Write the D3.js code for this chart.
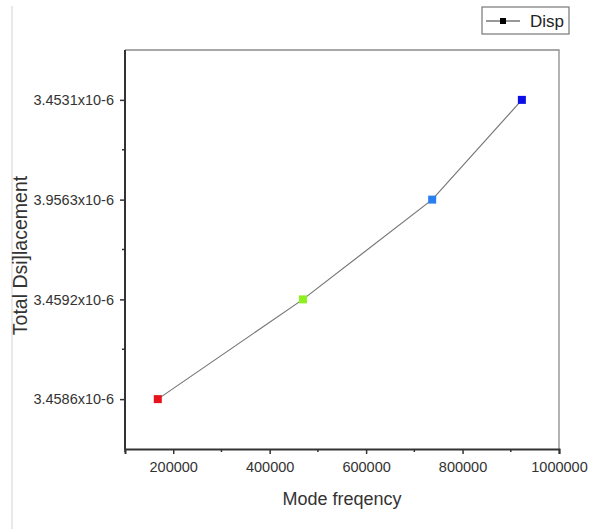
<!DOCTYPE html>
<html>
<head>
<meta charset="utf-8">
<script src="https://cdn.jsdelivr.net/npm/d3@7"></script>
<style>
  body { margin: 0; background: #fff; }
  svg { font-family: "Liberation Sans", Arial, sans-serif; }
  .tick-label { font-size: 14.5px; fill: #333; }
</style>
</head>
<body>
<svg id="chart" width="589" height="529"></svg>
<script>
// data
const dispLabels = ['3.4586x10-6', '3.4592x10-6', '3.9563x10-6', '3.4531x10-6'];
const modeFreq = [168000, 469000, 737000, 923000];
const pointColors = ['#e8121c', '#8ef01e', '#2a7ff0', '#0c0ee8'];
const xTicks = [200000, 400000, 600000, 800000, 1000000];
const xMinorTicks = [100000, 300000, 500000, 700000, 900000];

const svg = d3.select('#chart');
const margin = { top: 50, right: 30, bottom: 80, left: 125 };
const width = +svg.attr('width');
const height = +svg.attr('height');
const x0 = margin.left, x1 = width - margin.right;
const y0 = margin.top, y1 = height - margin.bottom;

// faint line along the left edge
svg.append('line')
  .attr('x1', 12).attr('x2', 12)
  .attr('y1', 6).attr('y2', height)
  .attr('stroke', '#e2e2e2').attr('stroke-width', 1.5);

const x = d3.scaleLinear().domain([100000, 1000000]).range([x0, x1]);
const y = d3.scalePoint().domain(dispLabels).range([y1, y0]).padding(0.5);

// frame top and right
svg.append('path')
  .attr('d', `M${x0},${y0}H${x1}V${y1}`)
  .attr('fill', 'none')
  .attr('stroke', '#8a8a8a')
  .attr('stroke-width', 1.3);

// bottom axis
const xAxis = svg.append('g')
  .attr('transform', `translate(0,${y1})`)
  .call(d3.axisBottom(x).tickValues(xTicks).tickFormat(d3.format('d')).tickSize(5).tickPadding(8));
xAxis.select('.domain').attr('stroke', '#333').attr('stroke-width', 2);
xAxis.selectAll('.tick line').attr('stroke', '#333').attr('stroke-width', 1.5);
xAxis.selectAll('.tick text').attr('class', 'tick-label').attr('font-family', null).attr('font-size', null);

svg.append('g')
  .selectAll('line')
  .data(xMinorTicks)
  .join('line')
  .attr('x1', d => x(d)).attr('x2', d => x(d))
  .attr('y1', y1).attr('y2', y1 + 3)
  .attr('stroke', '#333').attr('stroke-width', 1.5);

// left axis
const yAxis = svg.append('g')
  .attr('transform', `translate(${x0},0)`)
  .call(d3.axisLeft(y).tickSize(5).tickPadding(6));
yAxis.select('.domain').attr('d', `M0,${y1}V${y0}`).attr('stroke', '#333').attr('stroke-width', 2);
yAxis.selectAll('.tick line').attr('stroke', '#333').attr('stroke-width', 1.5);
yAxis.selectAll('.tick text').attr('class', 'tick-label').attr('font-family', null).attr('font-size', null);

const step = y.step();
const yMinor = dispLabels.slice(0, -1).map(d => y(d) - step / 2);
svg.append('g')
  .selectAll('line')
  .data(yMinor)
  .join('line')
  .attr('x1', x0 - 3).attr('x2', x0)
  .attr('y1', d => d).attr('y2', d => d)
  .attr('stroke', '#333').attr('stroke-width', 1.5);

// series line
const points = modeFreq.map((f, i) => ({ f, d: dispLabels[i], c: pointColors[i] }));
svg.append('path')
  .datum(points)
  .attr('fill', 'none')
  .attr('stroke', '#777')
  .attr('stroke-width', 1.2)
  .attr('d', d3.line().x(p => x(p.f)).y(p => y(p.d)));

svg.append('g')
  .selectAll('rect')
  .data(points)
  .join('rect')
  .attr('x', p => x(p.f) - 4)
  .attr('y', p => y(p.d) - 4)
  .attr('width', 8)
  .attr('height', 8)
  .attr('fill', p => p.c);

// axis titles
svg.append('text')
  .attr('x', (x0 + x1) / 2)
  .attr('y', 505)
  .attr('text-anchor', 'middle')
  .attr('font-size', 18)
  .attr('fill', '#333')
  .text('Mode freqency');

svg.append('text')
  .attr('transform', `translate(27,${(y0 + y1) / 2 + 6}) rotate(-90)`)
  .attr('text-anchor', 'middle')
  .attr('font-size', 19.5)
  .attr('fill', '#333')
  .text('Total Dsi]lacement');

// legend
const lg = svg.append('g').attr('transform', 'translate(482,7)');
lg.append('rect')
  .attr('width', 87).attr('height', 27)
  .attr('fill', '#fff')
  .attr('stroke', '#777').attr('stroke-width', 1.2);
lg.append('line')
  .attr('x1', 4).attr('x2', 38).attr('y1', 14).attr('y2', 14)
  .attr('stroke', '#333').attr('stroke-width', 1.2);
lg.append('rect')
  .attr('x', 18).attr('y', 11).attr('width', 6).attr('height', 6)
  .attr('fill', '#000');
lg.append('text')
  .attr('x', 48).attr('y', 20)
  .attr('font-size', 17)
  .attr('fill', '#222')
  .text('Disp');
</script>
</body>
</html>
